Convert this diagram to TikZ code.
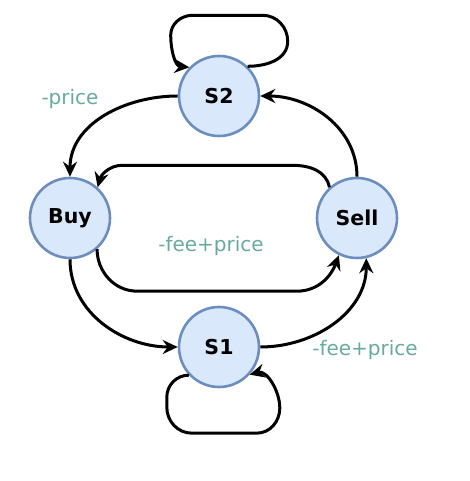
\documentclass[tikz,border=0pt]{standalone}
\usepackage{fontspec}
\setmainfont{DejaVu Sans}
\usetikzlibrary{arrows.meta}
\definecolor{stfill}{HTML}{DAE8FC}
\definecolor{stline}{HTML}{6C8EBF}
\definecolor{gaincol}{HTML}{67AB9F}

\begin{document}
\begin{tikzpicture}[x=1pt, y=1pt,
    state/.style={circle, draw=stline, fill=stfill, line width=2.6pt, minimum size=80pt, inner sep=0pt, font=\fontsize{20.5}{24}\selectfont\bfseries},
    edge/.style={-{Stealth[length=15pt,width=14pt,inset=5pt]}, line width=3pt, line join=round},
    gain/.style={text=gaincol, inner sep=0pt, font=\fontsize{20}{24}\selectfont}]
    \useasboundingbox (0,0) rectangle (470,481);

    \node[state] (S2) at (219,385) {S2};
    \node[state] (Buy) at (70,263) {Buy};
    \node[state] (Sell) at (357,263) {Sell};
    \node[state] (S1) at (219,134) {S1};

    \draw[edge] (S2.46) to[out=0,in=-90] ++(40,25) to[out=90,in=0] ++(-25,26) -- ++(-70,0) to[out=180,in=90] ++(-22,-20) to[out=-90,in=175] (S2.136);
    \draw[edge] (S2.west) to[out=180,in=90] (Buy.north);
    \draw[edge] (Sell.north) to[out=90,in=0] (S2.east);
    \draw[edge] (Sell.132) to[out=100,in=0] ++(-37,22) -- ++(-170,0) to[out=180,in=75] (Buy.48);
    \draw[edge] (Buy.311) to[out=-90,in=180] ++(40,-42) -- ++(160,0) to[out=0,in=-110] (Sell.244);
    \draw[edge] (Buy.south) to[out=-90,in=180] (S1.west);
    \draw[edge] (S1.east) to[out=0,in=-90] (Sell.283);
    \draw[edge] (S1.223) to[out=180,in=90] ++(-22,-22) -- ++(0,-10) to[out=-90,in=180] ++(25,-26) -- ++(65,0) to[out=0,in=-90] ++(23,25) to[out=90,in=15] (S1.318);

    \node[gain] (pBuy) at (70,382) {-price};
    \node[gain] (pMid) at (211,235) {-fee+price};
    \node[gain] (pSell) at (365,131) {-fee+price};
\end{tikzpicture}
\end{document}
